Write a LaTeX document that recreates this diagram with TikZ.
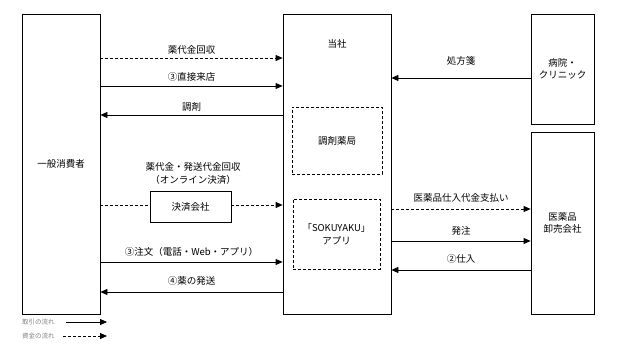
\documentclass[tikz,border=0pt]{standalone}
\usepackage{fontspec}
\setmainfont{Noto Sans CJK JP}
\usetikzlibrary{arrows.meta}
\begin{document}
\begin{tikzpicture}[x=1pt,y=-1pt,
  box/.style={draw, line width=0.8pt, inner sep=0pt, align=center, font=\fontsize{9.5}{12.5}\selectfont},
  dbox/.style={draw, line width=0.7pt, dash pattern=on 3pt off 2pt, inner sep=0pt, align=center, font=\fontsize{9.5}{12.5}\selectfont},
  flow/.style={line width=0.8pt, -{Triangle[length=7pt,width=6pt]}},
  money/.style={flow, dash pattern=on 3pt off 2pt},
  lbl/.style={font=\fontsize{9.5}{13}\selectfont, inner sep=0pt, align=center},
  leg/.style={font=\fontsize{6.5}{7}\selectfont, text=black!50, inner sep=0pt},
  ]
\useasboundingbox (0,0) rectangle (618,353);
% boxes
\node[box, minimum width=78pt, minimum height=300pt] (cons) at (61,164) {一般消費者};
\node[box, minimum width=108pt, minimum height=300pt] (tosha) at (337,164) {};
\node[lbl] (toshalbl) at (337,44) {当社};
\node[dbox, minimum width=90pt, minimum height=67pt] (pharm) at (337,140.5) {調剤薬局};
\node[dbox, minimum width=87pt, minimum height=70pt] (app) at (336.5,234) {「SOKUYAKU」\\アプリ};
\node[box, minimum width=63pt, minimum height=110pt] (hosp) at (562.5,69) {病院・\\クリニック};
\node[box, minimum width=63pt, minimum height=182pt] (whole) at (562.5,223) {医薬品\\卸売会社};
\node[box, minimum width=81pt, minimum height=31pt] (pay) at (190.5,206.5) {決済会社};
\node[lbl] (paylbl) at (193,173) {薬代金・発送代金回収\\（オンライン決済）};
% left arrows
\draw[money] (cons.east |- 0,58) -- node[lbl, above=3pt] {薬代金回収} (tosha.west |- 0,58);
\draw[flow] (cons.east |- 0,86) -- node[lbl, above=4pt] {③直接来店} (tosha.west |- 0,86);
\draw[flow] (tosha.west |- 0,115) -- node[lbl, above=3pt] {調剤} (cons.east |- 0,115);
\draw[line width=0.8pt, dash pattern=on 3pt off 2pt] (cons.east |- 0,205) -- (pay.west |- 0,205);
\draw[money] (pay.east |- 0,205) -- (tosha.west |- 0,205);
\draw[flow] (cons.east |- 0,262) -- node[lbl, above=5pt] {③注文（電話・Web・アプリ）} (tosha.west |- 0,262);
\draw[flow] (tosha.west |- 0,292) -- node[lbl, above=6pt] {④薬の発送} (cons.east |- 0,292);
% right arrows
\draw[flow] (hosp.west |- 0,78) -- node[lbl, above=12pt] {処方箋} (tosha.east |- 0,78);
\draw[money] (tosha.east |- 0,209) -- node[lbl, above=6pt] {医薬品仕入代金支払い} (whole.west |- 0,209);
\draw[flow] (tosha.east |- 0,241) -- node[lbl, above=5pt] {発注} (whole.west |- 0,241);
\draw[flow] (whole.west |- 0,270) -- node[lbl, above=6pt] {②仕入} (tosha.east |- 0,270);
% legend
\node[leg, anchor=west] (leg1) at (22,322) {取引の流れ};
\node[leg, anchor=west] (leg2) at (22,336) {資金の流れ};
\coordinate (leg1end) at (107,322);
\coordinate (leg2end) at (107,336);
\draw[flow] (66,322) -- (leg1end);
\draw[money] (63,336) -- (leg2end);
\end{tikzpicture}
\end{document}
